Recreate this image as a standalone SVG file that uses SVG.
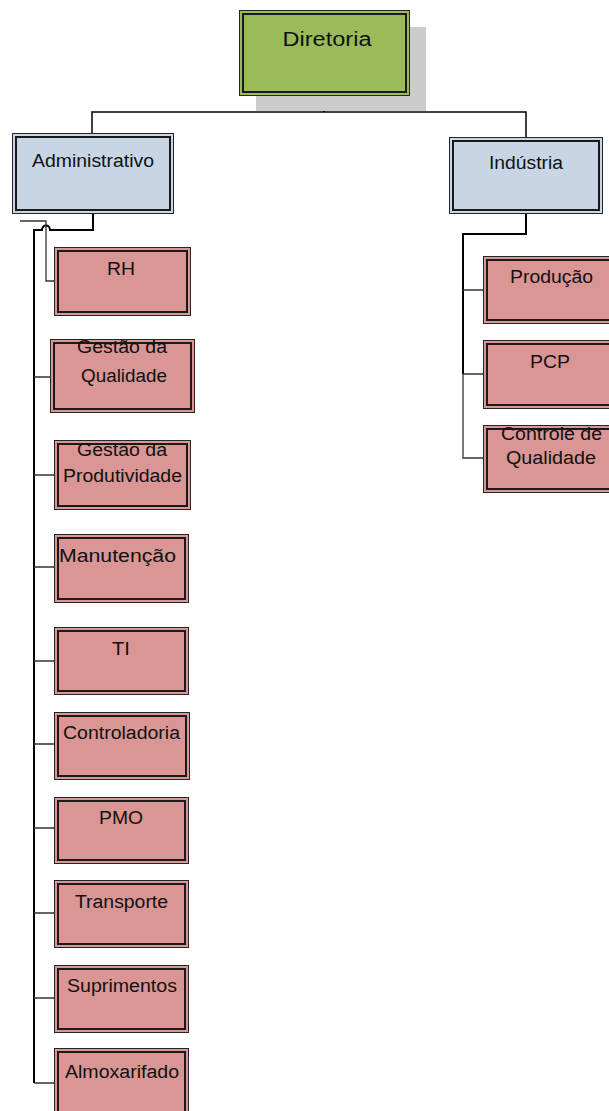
<svg xmlns="http://www.w3.org/2000/svg" width="609" height="1111" viewBox="0 0 609 1111">
<style>
.o{stroke:#262626;stroke-width:1;shape-rendering:crispEdges}
.i{fill:none;stroke:#1a1a1a;stroke-width:2;shape-rendering:crispEdges}
.g{fill:#9BBB59}
.b{fill:#C8D5E5}
.r{fill:#D99694}
text{font-family:"Liberation Sans",Arial,sans-serif;font-size:18px;fill:#111;text-anchor:middle}
.main{fill:none;stroke:#000;stroke-width:2}
.top{fill:none;stroke:#000;stroke-width:1.5}
.br{fill:none;stroke:#333;stroke-width:1.3}
</style>
<rect x="0" y="0" width="609" height="1111" fill="#fff"/>
<g id="connectors">
<path class="main" d="M324,95 V112"/>
<path class="top" d="M92,133 V112 H526 V137"/>
<path class="main" d="M93,213 V230 H50 C50,224 42,224 42,230 H34 V1083"/>
<path class="br" d="M20,221 H46 V281 H54"/>
<path class="br" d="M34,377 H50 M34,475 H54 M34,567 H54 M34,661 H54 M34,744 H54 M34,828 H54 M34,913 H54 M34,998 H54 M34,1083 H54"/>
<path class="main" d="M526,213 V234 H463 V374"/>
<path class="br" d="M463,374 V458 H483 M463,290 H483 M463,374 H483"/>
</g>
<g id="diretoria">
<rect x="256" y="27" width="170" height="84" fill="#CCCCCC"/>
<rect class="o g" x="239.5" y="10.5" width="170" height="85"/>
<rect class="i" x="243" y="14" width="163" height="78"/>
<text x="327" y="46" style="font-size:20px" textLength="89" lengthAdjust="spacingAndGlyphs">Diretoria</text>
</g>
<g id="administrativo">
<rect class="o b" x="12.5" y="133.5" width="161" height="80"/>
<rect class="i" x="16" y="137" width="154" height="73"/>
<text x="93" y="167" textLength="122" lengthAdjust="spacingAndGlyphs">Administrativo</text>
</g>
<g id="industria">
<rect class="o b" x="449.5" y="137.5" width="153" height="76"/>
<rect class="i" x="453" y="141" width="146" height="69"/>
<text x="526" y="169" textLength="74" lengthAdjust="spacingAndGlyphs">Indústria</text>
</g>
<g id="rh">
<rect class="o r" x="54.5" y="247.5" width="136" height="68"/>
<rect class="i" x="58" y="251" width="129" height="61"/>
<text x="121" y="275" textLength="28" lengthAdjust="spacingAndGlyphs">RH</text>
</g>
<g id="gestao-qualidade">
<rect class="o r" x="50.5" y="339.5" width="144" height="73"/>
<rect class="i" x="54" y="343" width="137" height="66"/>
<text x="122" y="353" textLength="90" lengthAdjust="spacingAndGlyphs">Gestão da</text>
<text x="124" y="382" textLength="86" lengthAdjust="spacingAndGlyphs">Qualidade</text>
</g>
<g id="gestao-produtividade">
<rect class="o r" x="54.5" y="440.5" width="136" height="69"/>
<rect class="i" x="58" y="444" width="129" height="62"/>
<text x="122" y="456" textLength="90" lengthAdjust="spacingAndGlyphs">Gestão da</text>
<text x="122.5" y="482" textLength="119" lengthAdjust="spacingAndGlyphs">Produtividade</text>
</g>
<g id="manutencao">
<rect class="o r" x="54.5" y="534.5" width="134" height="68"/>
<rect class="i" x="58" y="538" width="127" height="61"/>
<text x="117.5" y="562" textLength="117" lengthAdjust="spacingAndGlyphs">Manutenção</text>
</g>
<g id="ti">
<rect class="o r" x="54.5" y="627.5" width="134" height="67"/>
<rect class="i" x="58" y="631" width="127" height="60"/>
<text x="121" y="655" textLength="18" lengthAdjust="spacingAndGlyphs">TI</text>
</g>
<g id="controladoria">
<rect class="o r" x="54.5" y="712.5" width="135" height="67"/>
<rect class="i" x="58" y="716" width="128" height="60"/>
<text x="121.5" y="739" textLength="117" lengthAdjust="spacingAndGlyphs">Controladoria</text>
</g>
<g id="pmo">
<rect class="o r" x="54.5" y="797.5" width="134" height="66"/>
<rect class="i" x="58" y="801" width="127" height="59"/>
<text x="121" y="824" textLength="44" lengthAdjust="spacingAndGlyphs">PMO</text>
</g>
<g id="transporte">
<rect class="o r" x="54.5" y="880.5" width="134" height="67"/>
<rect class="i" x="58" y="884" width="127" height="60"/>
<text x="121.5" y="908" textLength="93" lengthAdjust="spacingAndGlyphs">Transporte</text>
</g>
<g id="suprimentos">
<rect class="o r" x="54.5" y="965.5" width="134" height="67"/>
<rect class="i" x="58" y="969" width="127" height="60"/>
<text x="122" y="992" textLength="110" lengthAdjust="spacingAndGlyphs">Suprimentos</text>
</g>
<g id="almoxarifado">
<rect class="o r" x="54.5" y="1048.5" width="134" height="68"/>
<rect class="i" x="58" y="1052" width="127" height="61"/>
<text x="122" y="1078" textLength="114" lengthAdjust="spacingAndGlyphs">Almoxarifado</text>
</g>
<g id="producao">
<rect class="o r" x="483.5" y="256.5" width="135" height="67"/>
<rect class="i" x="487" y="260" width="128" height="60"/>
<text x="551.5" y="283" textLength="83" lengthAdjust="spacingAndGlyphs">Produção</text>
</g>
<g id="pcp">
<rect class="o r" x="483.5" y="340.5" width="135" height="68"/>
<rect class="i" x="487" y="344" width="128" height="61"/>
<text x="550" y="368" textLength="40" lengthAdjust="spacingAndGlyphs">PCP</text>
</g>
<g id="controle-qualidade">
<rect class="o r" x="483.5" y="425.5" width="135" height="67"/>
<rect class="i" x="487" y="429" width="128" height="60"/>
<text x="551.5" y="440" textLength="101" lengthAdjust="spacingAndGlyphs">Controle de</text>
<text x="551" y="464" textLength="90" lengthAdjust="spacingAndGlyphs">Qualidade</text>
</g>
</svg>
